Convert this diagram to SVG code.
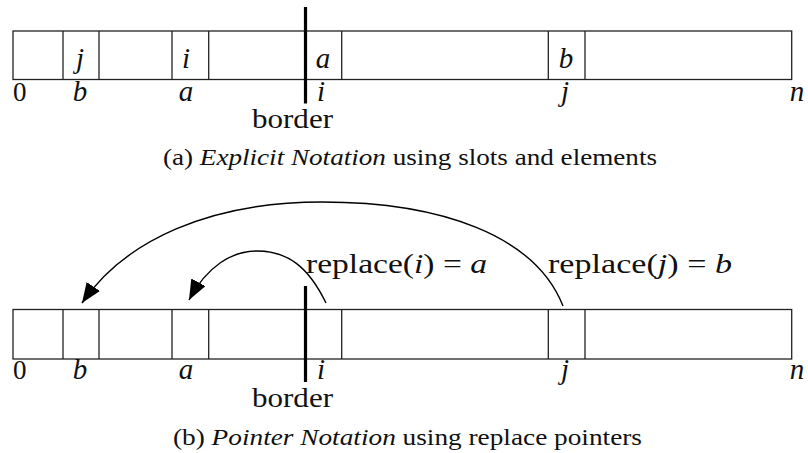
<svg xmlns="http://www.w3.org/2000/svg" width="808" height="453" viewBox="0 0 808 453">
<style>
  .arr { fill: none; stroke: #222; stroke-width: 1.3; }
  .div { stroke: #222; stroke-width: 1.3; }
  .bord { stroke: #000; stroke-width: 3.2; }
  .con { fill: none; stroke: #000; stroke-width: 1.4; }
</style>
<defs>
  <marker id="ah" markerUnits="userSpaceOnUse" markerWidth="22" markerHeight="18" refX="20" refY="8" orient="auto">
    <path d="M0,0 L20,8 L0,16 z" fill="#000"/>
  </marker>
</defs>
<rect width="808" height="453" fill="#fff"/>

<g id="array-a" fill="#111">
  <rect x="13" y="31" width="778.7" height="48.5" class="arr"/>
  <line x1="63" y1="31" x2="63" y2="79.5" class="div"/>
  <line x1="99" y1="31" x2="99" y2="79.5" class="div"/>
  <line x1="172" y1="31" x2="172" y2="79.5" class="div"/>
  <line x1="208.7" y1="31" x2="208.7" y2="79.5" class="div"/>
  <line x1="341.7" y1="31" x2="341.7" y2="79.5" class="div"/>
  <line x1="548.3" y1="31" x2="548.3" y2="79.5" class="div"/>
  <line x1="585" y1="31" x2="585" y2="79.5" class="div"/>
  <text font-family="Liberation Serif" font-style="italic" font-size="29" x="80" y="68" text-anchor="middle">j</text>
  <text font-family="Liberation Serif" font-style="italic" font-size="29" x="186" y="68" text-anchor="middle">i</text>
  <text font-family="Liberation Serif" font-style="italic" font-size="29" x="323" y="68" text-anchor="middle">a</text>
  <text font-family="Liberation Serif" font-style="italic" font-size="29" x="566" y="68" text-anchor="middle">b</text>
  <text font-family="Liberation Serif" font-size="27" x="13" y="101">0</text>
  <text font-family="Liberation Serif" font-style="italic" font-size="29" x="80" y="101" text-anchor="middle">b</text>
  <text font-family="Liberation Serif" font-style="italic" font-size="29" x="186" y="101" text-anchor="middle">a</text>
  <text font-family="Liberation Serif" font-style="italic" font-size="29" x="321" y="101" text-anchor="middle">i</text>
  <text font-family="Liberation Serif" font-style="italic" font-size="29" x="565" y="101" text-anchor="middle">j</text>
  <text font-family="Liberation Serif" font-style="italic" font-size="29" x="797" y="101" text-anchor="middle">n</text>
</g>
<g id="border-a" fill="#111">
  <line x1="305.5" y1="7" x2="305.5" y2="103.5" class="bord"/>
  <text font-family="Liberation Serif" font-size="27" x="252" y="128" textLength="81" lengthAdjust="spacingAndGlyphs">border</text>
</g>
<g id="caption-a" fill="#111">
  <text font-family="Liberation Serif" font-size="24" x="163" y="165" textLength="494" lengthAdjust="spacingAndGlyphs">(a) <tspan font-style="italic">Explicit Notation</tspan> using slots and elements</text>
</g>

<g id="array-b" fill="#111">
  <rect x="13" y="309.5" width="778.7" height="49.5" class="arr"/>
  <line x1="63" y1="309.5" x2="63" y2="359" class="div"/>
  <line x1="99" y1="309.5" x2="99" y2="359" class="div"/>
  <line x1="172" y1="309.5" x2="172" y2="359" class="div"/>
  <line x1="208.7" y1="309.5" x2="208.7" y2="359" class="div"/>
  <line x1="341.7" y1="309.5" x2="341.7" y2="359" class="div"/>
  <line x1="548.3" y1="309.5" x2="548.3" y2="359" class="div"/>
  <line x1="585" y1="309.5" x2="585" y2="359" class="div"/>
  <text font-family="Liberation Serif" font-size="27" x="13" y="379">0</text>
  <text font-family="Liberation Serif" font-style="italic" font-size="29" x="80" y="379" text-anchor="middle">b</text>
  <text font-family="Liberation Serif" font-style="italic" font-size="29" x="186" y="379" text-anchor="middle">a</text>
  <text font-family="Liberation Serif" font-style="italic" font-size="29" x="321" y="379" text-anchor="middle">i</text>
  <text font-family="Liberation Serif" font-style="italic" font-size="29" x="565" y="379" text-anchor="middle">j</text>
  <text font-family="Liberation Serif" font-style="italic" font-size="29" x="797" y="379" text-anchor="middle">n</text>
</g>
<g id="border-b" fill="#111">
  <line x1="305.5" y1="286" x2="305.5" y2="382" class="bord"/>
  <text font-family="Liberation Serif" font-size="27" x="252" y="407" textLength="81" lengthAdjust="spacingAndGlyphs">border</text>
</g>
<g id="label-i" fill="#111">
  <text font-family="Liberation Serif" font-size="28" x="306" y="273" textLength="181" lengthAdjust="spacingAndGlyphs">replace(<tspan font-style="italic">i</tspan>) = <tspan font-style="italic">a</tspan></text>
</g>
<g id="label-j" fill="#111">
  <text font-family="Liberation Serif" font-size="28" x="548" y="273" textLength="184" lengthAdjust="spacingAndGlyphs">replace(<tspan font-style="italic">j</tspan>) = <tspan font-style="italic">b</tspan></text>
</g>
<g id="caption-b" fill="#111">
  <text font-family="Liberation Serif" font-size="24" x="173" y="445" textLength="469" lengthAdjust="spacingAndGlyphs">(b) <tspan font-style="italic">Pointer Notation</tspan> using replace pointers</text>
</g>

<g id="connectors">
  <path class="con" d="M563,306 C535,235 440,202 322,202 C210,202 125,240 82,303" marker-end="url(#ah)"/>
  <path class="con" d="M326,303 C308,266 287,251 257,251 C232,251 207,266 189,300" marker-end="url(#ah)"/>
</g>
</svg>
